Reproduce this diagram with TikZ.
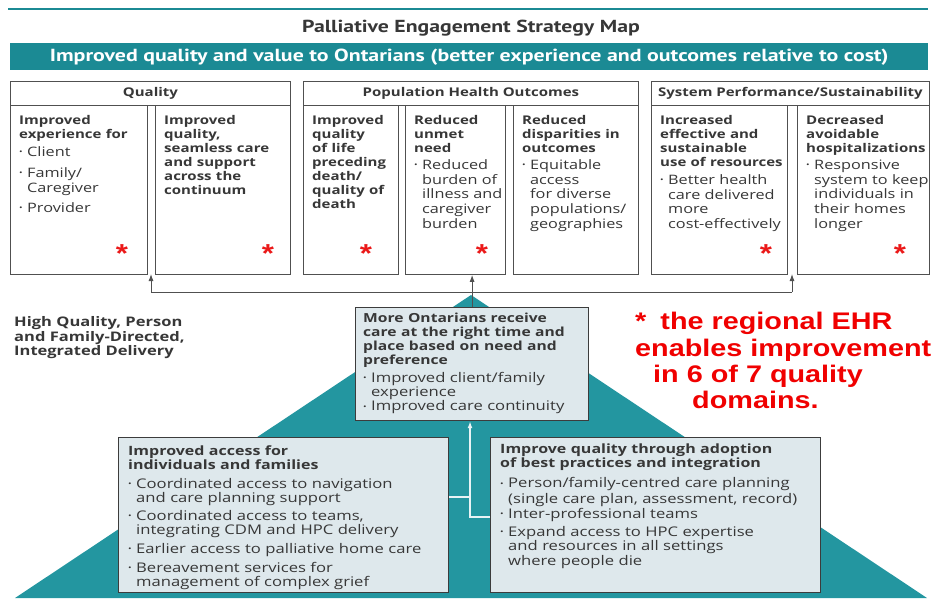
\documentclass[tikz,border=0pt]{standalone}
\usepackage{fontspec}
\setmainfont{Open Sans}[FakeStretch=1.25]
\newfontfamily\ptfont{PT Sans}[FakeStretch=1.25]
\newfontfamily\arialfont{Liberation Sans}[FakeStretch=1.2]
\usetikzlibrary{arrows.meta}
\definecolor{teal1}{RGB}{27,138,148}
\definecolor{teal2}{RGB}{35,150,160}
\definecolor{boxfill}{RGB}{222,232,236}
\definecolor{txt}{RGB}{55,55,55}
\definecolor{edge}{RGB}{80,80,80}
\definecolor{edgeb}{RGB}{60,60,60}
\definecolor{redA}{RGB}{235,25,25}
\definecolor{redB}{RGB}{240,0,0}
\definecolor{wl}{RGB}{232,243,245}
\newcommand{\B}[1]{{\fontsize{\hdsz}{14}\selectfont\textbf{#1}}}
\newcommand{\hdsz}{12}
\newcommand{\bu}{\makebox[8pt][l]{\raisebox{1.5pt}{\fontsize{7.5}{7.5}\selectfont\textbullet}}}
\newcommand{\ind}{\hspace*{8pt}}
\begin{document}
\begin{tikzpicture}[x=1pt,y=-1pt,
  cell/.style={draw=edge, line width=0.9pt, anchor=north west, inner sep=0pt, fill=white},
  hdr/.style={cell, text=txt, font=\fontsize{12}{14}\selectfont\bfseries},
  ctext/.style={anchor=north west, inner sep=0pt, align=left, text width=420pt, text=txt, font=\renewcommand{\hdsz}{12}\fontsize{13}{14}\selectfont},
  btext/.style={ctext, font=\renewcommand{\hdsz}{12.8}\fontsize{13.3}{14}\selectfont},
  mtext/.style={ctext, font=\renewcommand{\hdsz}{12.5}\fontsize{13.3}{13.3}\selectfont},
  ast/.style={anchor=base, inner sep=0pt, text=redA, font=\arialfont\bfseries\fontsize{26}{26}\selectfont},
  pbox/.style={draw=edgeb, line width=1.2pt, fill=boxfill, anchor=north west, inner sep=0pt},
  gline/.style={draw=edge, line width=0.9pt},
  garr/.style={gline, -{Latex[length=7pt,width=5pt]}},
  wline/.style={draw=wl, line width=1.4pt},
  warr/.style={wline, -{Latex[length=7pt,width=5pt]}},
  redtxt/.style={anchor=base west, inner sep=0pt, text=redB, font=\arialfont\bfseries\fontsize{24}{26}\selectfont}
]
\useasboundingbox (0,0) rectangle (936,598);
\fill[white] (0,0) rectangle (936,598);
% top rule, title, banner
\draw[teal1, line width=1.5pt] (8,9) -- (928,9);
\node[text=txt, font=\ptfont\bfseries\fontsize{17.4}{17.4}\selectfont] (title) at (471,28) {Palliative Engagement Strategy Map};
\node[fill=teal1, minimum width=918pt, minimum height=27pt, anchor=north west, inner sep=0pt, text=white, font=\ptfont\bfseries\fontsize{17.5}{20}\selectfont] (banner) at (10,43) {Improved quality and value to Ontarians (better experience and outcomes relative to cost)};
% headers
\node[hdr, minimum width=280pt, minimum height=24pt] (hq) at (10,81) {Quality};
\node[hdr, minimum width=335pt, minimum height=24pt] (hp) at (303,81) {Population Health Outcomes};
\node[hdr, minimum width=278pt, minimum height=24pt] (hs) at (651,81) {System Performance/Sustainability};
% sub boxes
\node[cell, minimum width=137pt, minimum height=169pt] (q1) at (10,105) {};
\node[cell, minimum width=135pt, minimum height=169pt] (q2) at (155,105) {};
\node[cell, minimum width=95pt, minimum height=169pt] (p1) at (303,105) {};
\node[cell, minimum width=100pt, minimum height=169pt] (p2) at (405,105) {};
\node[cell, minimum width=125pt, minimum height=169pt] (p3) at (513,105) {};
\node[cell, minimum width=136pt, minimum height=169pt] (s1) at (651,105) {};
\node[cell, minimum width=132pt, minimum height=169pt] (s2) at (797,105) {};
% texts
\node[ctext] (tq1) at ([shift={(9,10)}]q1.north west) {\B{Improved\\experience for}\\[4pt]\bu Client\\[7pt]\bu Family/\\[1pt]\ind Caregiver\\[6pt]\bu Provider};
\node[ctext] (tq2) at ([shift={(9,10)}]q2.north west) {\B{Improved\\quality,\\seamless care\\and support\\across the\\continuum}};
\node[ctext] (tp1) at ([shift={(9,10)}]p1.north west) {\B{Improved\\quality\\of life\\preceding\\death/\\quality of\\death}};
\node[ctext] (tp2) at ([shift={(9,10)}]p2.north west) {\B{Reduced\\unmet\\need}\\[3pt]\bu Reduced\\[0.7pt]\ind burden of\\[0.7pt]\ind illness and\\[0.7pt]\ind caregiver\\[0.7pt]\ind burden};
\node[ctext] (tp3) at ([shift={(9,10)}]p3.north west) {\B{Reduced\\disparities in\\outcomes}\\[3pt]\bu Equitable\\[0.7pt]\ind access\\[0.7pt]\ind for diverse\\[0.7pt]\ind populations/\\[0.7pt]\ind geographies};
\node[ctext] (ts1) at ([shift={(9,10)}]s1.north west) {\B{Increased\\effective and\\sustainable\\use of resources}\\[4pt]\bu Better health\\[0.7pt]\ind care delivered\\[0.7pt]\ind more\\[0.7pt]\ind cost-effectively};
\node[ctext] (ts2) at ([shift={(9,10)}]s2.north west) {\B{Decreased\\avoidable\\hospitalizations}\\[3pt]\bu Responsive\\[0.7pt]\ind system to keep\\[0.7pt]\ind individuals in\\[0.7pt]\ind their homes\\[0.7pt]\ind longer};
% asterisks
\node[ast] (a1) at (122,262) {*};
\node[ast] (a2) at (268,262) {*};
\node[ast] (a3) at (366,262) {*};
\node[ast] (a4) at (482,262) {*};
\node[ast] (a5) at (766,262) {*};
\node[ast] (a6) at (900,262) {*};
% top connector
\coordinate (cL) at (151,292);
\coordinate (cR) at (792,292);
\coordinate (aL) at (151,274);
\coordinate (aR) at (792,274);
\draw[gline] (cL) -- (cR);
\draw[garr] (cL) -- (aL);
\draw[garr] (cR) -- (aR);
% pyramid
\fill[teal2] (471,295) -- (927,598) -- (15,598) -- cycle;
\node[pbox, minimum width=233pt, minimum height=113pt] (more) at (355,307) {};
\node[pbox, minimum width=330pt, minimum height=155pt] (bl) at (118,437) {};
\node[pbox, minimum width=330pt, minimum height=155pt] (br) at (490,437) {};
\draw[garr] (more.north) -- (more.north |- p2.south);
\node[mtext] (tmore) at ([shift={(8,6)}]more.north west) {\B{More Ontarians receive\\care at the right time and\\place based on need and\\preference}\\[5pt]\bu Improved client/family\\[0.5pt]\ind experience\\[1.5pt]\bu Improved care continuity};
\node[btext] (tbl) at ([shift={(10,8)}]bl.north west) {\B{Improved access for\\individuals and families}\\[5pt]\bu Coordinated access to navigation\\\ind and care planning support\\[4pt]\bu Coordinated access to teams,\\\ind integrating CDM and HPC delivery\\[5pt]\bu Earlier access to palliative home care\\[5pt]\bu Bereavement services for\\\ind management of complex grief};
\node[btext] (tbr) at ([shift={(10,7)}]br.north west) {\B{Improve quality through adoption\\of best practices and integration}\\[6pt]\bu Person/family-centred care planning\\[1.5pt]\ind (single care plan, assessment, record)\\[1pt]\bu Inter-professional teams\\[4pt]\bu Expand access to HPC expertise\\[0.5pt]\ind and resources in all settings\\[0.5pt]\ind where people die};
% pyramid connectors
\coordinate (j1) at (470,497);
\coordinate (j2) at (470,517);
\draw[wline] (bl.east |- j1) -- (j1);
\draw[warr] (br.west |- j2) -- (j2) -- (j2 |- more.south);
% left label
\node[anchor=north west, inner sep=0pt, align=left, text width=220pt, text=txt, font=\fontsize{13.2}{14.8}\selectfont\bfseries] (hq2) at (14,316) {High Quality, Person\\and Family-Directed,\\Integrated Delivery};
% red note
\node[redtxt] (r1) at (635,329) {*\hspace{14pt}the regional EHR};
\node[redtxt] (r2) at (635,356) {enables improvement};
\node[redtxt] (r3) at (653,382) {in 6 of 7 quality};
\node[redtxt] (r4) at (692,408) {domains.};
\end{tikzpicture}
\end{document}
